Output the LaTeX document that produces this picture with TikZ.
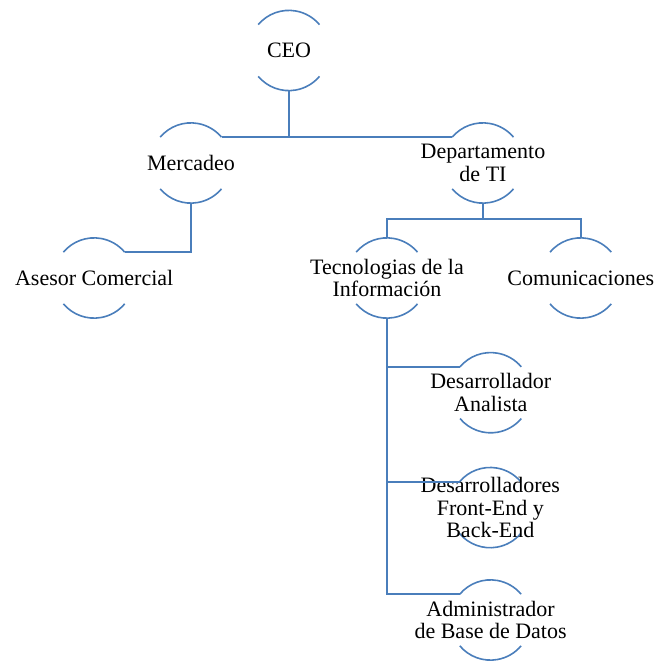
\documentclass[tikz,border=0pt]{standalone}
\usepackage{fontspec}
\setmainfont{Liberation Serif}
\definecolor{orgblue}{HTML}{4A7EBB}
\begin{document}
\begin{tikzpicture}[x=1pt,y=1pt,
  frame/.style={circle,minimum size=80pt,inner sep=0pt,draw=none},
  txt/.style={align=center,inner sep=0pt,font=\fontsize{22}{22.8}\selectfont},
  link/.style={draw=orgblue,line width=1.6pt},
  arcline/.style={draw=orgblue,line width=1.6pt}]
\useasboundingbox (0,0) rectangle (657,-662);

% circle frames (only their top and bottom arcs are drawn)
\node[frame] (ceo)  at (289,-50.5) {};
\node[frame] (merc) at (191,-163)  {};
\node[frame] (dep)  at (483,-163) {};
\node[frame] (ases) at (94.2,-278) {};
\node[frame] (tec)  at (387,-278) {};
\node[frame] (com)  at (580.8,-278) {};
\node[frame] (desa) at (490.8,-392.7) {};
\node[frame] (desf) at (490.3,-507.6) {};
\node[frame] (adm)  at (490.6,-620) {};

\foreach \n in {ceo,merc,dep,ases,tec,com,desa,desf,adm}{
  \draw[arcline] (\n.140) arc[start angle=140,end angle=40,radius=40pt];
  \draw[arcline] (\n.220) arc[start angle=220,end angle=320,radius=40pt];
}

% labels
\node[txt] (ceo-t)  at (ceo)  {CEO};
\node[txt] (merc-t) at (merc) {Mercadeo};
\node[txt] (dep-t)  at (dep)  {Departamento\\de TI};
\node[txt] (ases-t) at (ases) {Asesor Comercial};
\node[txt] (tec-t)  at (tec)  {Tecnologias de la\\Información};
\node[txt] (com-t)  at (com)  {Comunicaciones};
\node[txt] (desa-t) at (desa) {Desarrollador\\Analista};
\node[txt] (desf-t) at (desf) {Desarrolladores\\Front-End y\\Back-End};
\node[txt] (adm-t)  at (adm)  {Administrador\\de Base de Datos};

% connectors
\draw[link] (ceo.south) |- (merc.40);
\draw[link] (ceo.south) |- (dep.140);
\draw[link] (merc.south) |- (ases.40);
\draw[link] (dep.south) -- ++(0,-16) coordinate (depbus);
\draw[link] (depbus) -| (tec.north);
\draw[link] (depbus) -| (com.north);
\draw[link] (tec.south) |- (adm.140);
\draw[link] (tec.south |- desa.140) -- (desa.140);
\draw[link] (tec.south |- desf.140) -- (desf.140);
\end{tikzpicture}
\end{document}
